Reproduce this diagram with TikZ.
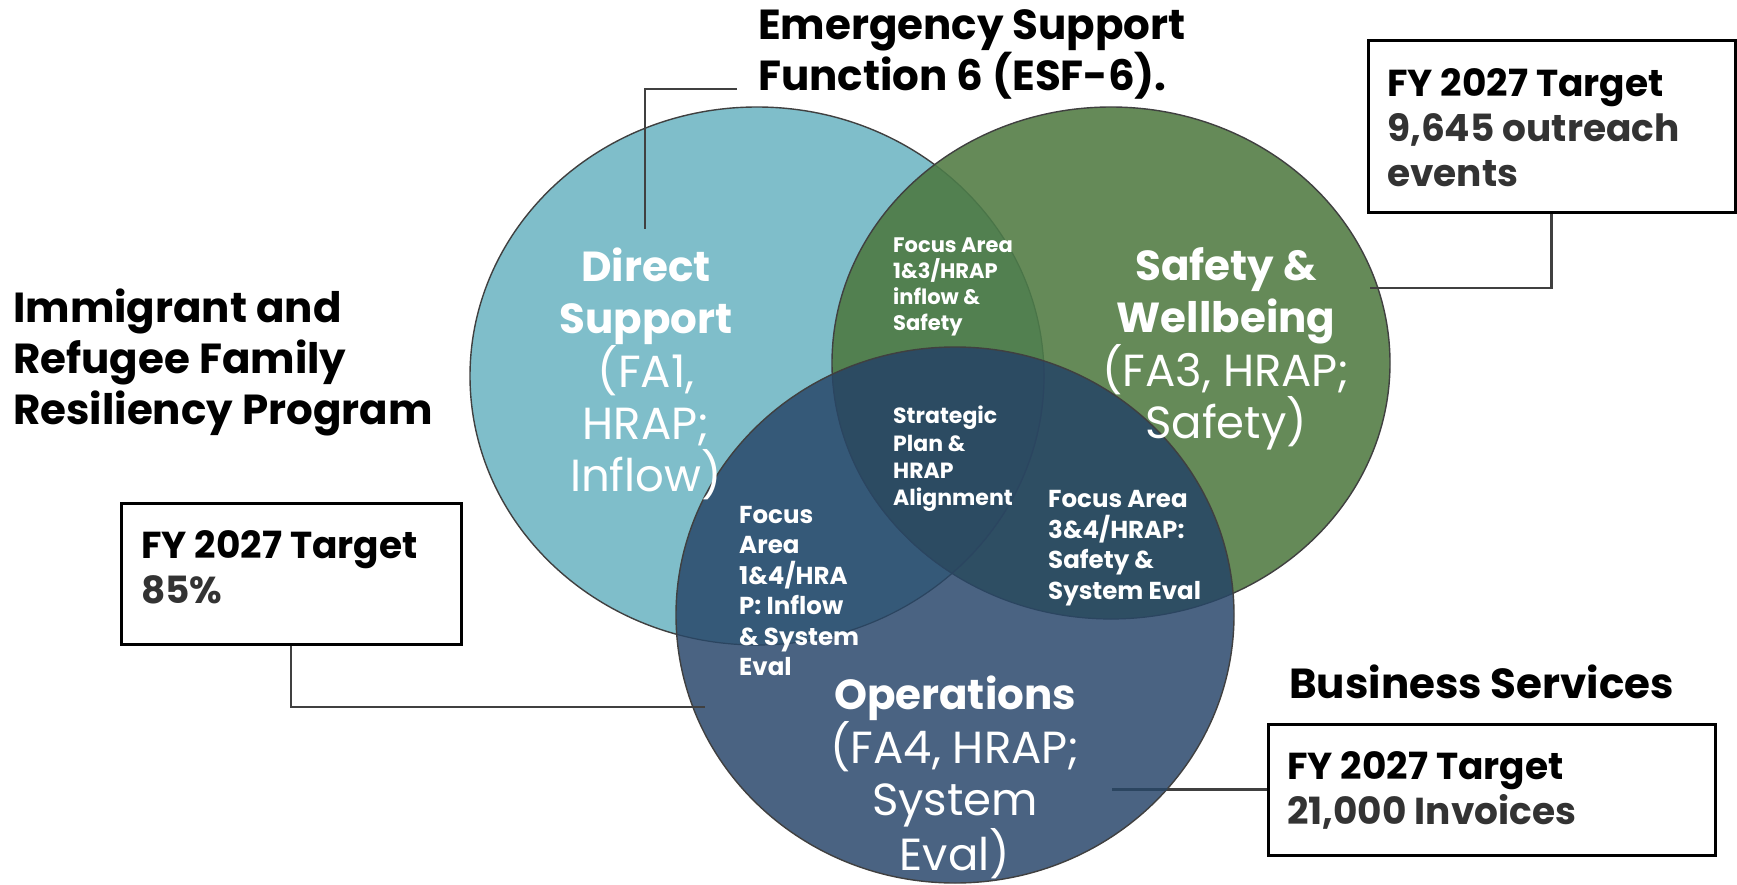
\documentclass[tikz,border=0pt]{standalone}
\usepackage{fontspec}
\setmainfont{Poppins}
\definecolor{bluec}{HTML}{7FBECA}
\definecolor{greenc}{HTML}{658A58}
\definecolor{navyc}{HTML}{4A6382}
\definecolor{bgc}{HTML}{528050}
\definecolor{bnc}{HTML}{355978}
\definecolor{gnc}{HTML}{2E4E63}
\definecolor{allc}{HTML}{2C4B62}
\definecolor{edgec}{HTML}{404040}
\definecolor{faintgc}{HTML}{4A7548}
\definecolor{faintnc}{HTML}{2B4560}
\definecolor{leadc}{HTML}{404040}
\definecolor{valc}{HTML}{333333}
\newcommand\bigboldtxt[1]{{\fontsize{42}{52}\selectfont\bfseries #1}}
\begin{document}
\begin{tikzpicture}[x=1pt,y=-1pt,
  edge/.style={draw=edgec,line width=1.4pt},
  leader/.style={draw=leadc,line width=2.8pt},
  tbox/.style={draw=black,line width=3pt,fill=white,inner sep=0pt},
  head/.style={font=\fontsize{42}{51}\selectfont\bfseries,text=black,align=left,inner sep=0pt},
  biglab/.style={font=\fontsize{45}{52}\selectfont,text=white,align=center,inner sep=0pt},
  smalllab/.style={font=\fontsize{21}{26}\selectfont\bfseries,text=white,align=left,inner sep=0pt},
  splab/.style={font=\fontsize{22}{27.3}\selectfont\bfseries,text=white,align=left,inner sep=0pt},
  midlab/.style={font=\fontsize{24.5}{30.5}\selectfont\bfseries,text=white,align=left,inner sep=0pt},
  ttext/.style={font=\fontsize{37.5}{45}\selectfont\bfseries,text=black,align=left,inner sep=0pt}
]
\useasboundingbox[fill=white] (0,0) rectangle (1737,885);

% Direct Support ellipse
\fill[bluec] (757,376) ellipse [x radius=287pt,y radius=269pt];
\draw[edge] (757,376) ellipse [x radius=287pt,y radius=269pt];

% Safety & Wellbeing ellipse
\fill[greenc] (1111,363) ellipse [x radius=279pt,y radius=256pt];
\begin{scope}
  \clip (757,376) ellipse [x radius=287pt,y radius=269pt];
  \fill[bgc] (1111,363) ellipse [x radius=279pt,y radius=256pt];
\end{scope}
\begin{scope}
  \clip (1111,363) ellipse [x radius=279pt,y radius=256pt];
  \draw[draw=faintgc,line width=1.2pt] (757,376) ellipse [x radius=287pt,y radius=269pt];
\end{scope}
\draw[edge] (1111,363) ellipse [x radius=279pt,y radius=256pt];

% Operations ellipse
\fill[navyc] (955,615) ellipse [x radius=279pt,y radius=268pt];
\begin{scope}
  \clip (757,376) ellipse [x radius=287pt,y radius=269pt];
  \fill[bnc] (955,615) ellipse [x radius=279pt,y radius=268pt];
\end{scope}
\begin{scope}
  \clip (1111,363) ellipse [x radius=279pt,y radius=256pt];
  \fill[gnc] (955,615) ellipse [x radius=279pt,y radius=268pt];
\end{scope}
\begin{scope}
  \clip (757,376) ellipse [x radius=287pt,y radius=269pt];
  \clip (1111,363) ellipse [x radius=279pt,y radius=256pt];
  \fill[allc] (955,615) ellipse [x radius=279pt,y radius=268pt];
\end{scope}
\begin{scope}
  \clip (955,615) ellipse [x radius=279pt,y radius=268pt];
  \draw[draw=faintnc,line width=1.2pt] (757,376) ellipse [x radius=287pt,y radius=269pt];
  \draw[draw=faintnc,line width=1.2pt] (1111,363) ellipse [x radius=279pt,y radius=256pt];
\end{scope}
\draw[edge] (955,615) ellipse [x radius=279pt,y radius=268pt];

% Headings
\node[head,anchor=west] (esf) at (758,54) {Emergency Support\\Function 6 (ESF-6).};
\node[head,anchor=west] (irf) at (13,362) {Immigrant and\\Refugee Family\\Resiliency Program};
\node[head,anchor=west] (bus) at (1289,682) {Business Services};

% Circle labels
\node[biglab] (ds) at (646,374) {\bigboldtxt{Direct}\\\bigboldtxt{Support}\\(FA1,\\HRAP;\\Inflow)};
\node[biglab] (sw) at (1226,349) {\bigboldtxt{Safety \&}\\\bigboldtxt{Wellbeing}\\(FA3, HRAP;\\Safety)};
\node[biglab] (op) at (955,777) {\bigboldtxt{Operations}\\(FA4, HRAP;\\System\\Eval)};

% Overlap labels
\node[smalllab,anchor=west] (fa13) at (893,287) {Focus Area\\1\&3/HRAP\\inflow \&\\Safety};
\node[splab,anchor=west] (sp) at (893,459) {Strategic\\Plan \&\\HRAP\\Alignment};
\node[midlab,anchor=west] (fa34) at (1048,548) {Focus Area\\3\&4/HRAP:\\Safety \&\\System Eval};
\node[midlab,anchor=west] (fa14) at (739,591) {Focus\\Area\\1\&4/HRA\\P: Inflow\\\& System\\Eval};

% Target boxes
\node[tbox,minimum width=367pt,minimum height=172pt] (trbox) at (1551.5,127) {};
\node[ttext,anchor=west] (trtext) at (1387,128) {FY 2027 Target\\\textcolor{valc}{9,645 outreach}\\\textcolor{valc}{events}};
\node[tbox,minimum width=340pt,minimum height=141pt] (lbox) at (291,573.5) {};
\node[ttext,anchor=west] (ltext) at (141,567) {FY 2027 Target\\\textcolor{valc}{85\%}};
\node[tbox,minimum width=447pt,minimum height=131pt] (brbox) at (1491.5,789.5) {};
\node[ttext,anchor=west] (brtext) at (1287,790) {FY 2027 Target\\\textcolor{valc}{21,000 Invoices}};

% Leader lines
\coordinate (esfa) at (737,89);
\coordinate (esfb) at (645,229);
\draw[leader] (esfa) -| (esfb);
\coordinate (trend) at (1370,288);
\draw[leader] (trbox.south) |- (trend);
\coordinate (lend) at (705,707);
\draw[leader] (lbox.south) |- (lend);
\coordinate (brend) at (1112,789.5);
\draw[leader] (brbox.west) -- (brend);
\begin{scope}
  \clip (955,615) ellipse [x radius=279pt,y radius=268pt];
  \draw[leader,draw=faintnc] (brbox.west) -- (brend);
\end{scope}
\end{tikzpicture}
\end{document}
